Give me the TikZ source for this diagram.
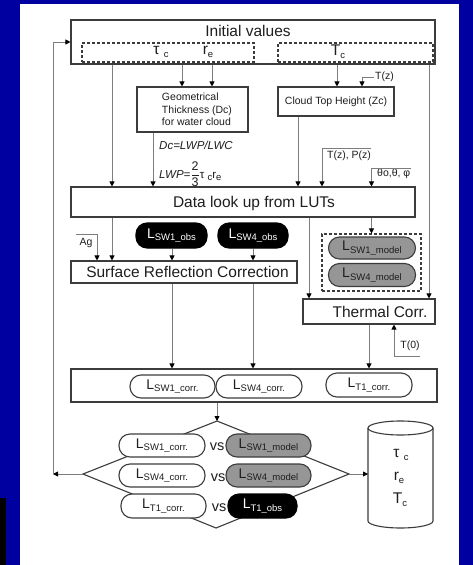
\documentclass[tikz,border=0pt]{standalone}
\usepackage{fontspec}
\setmainfont{Liberation Sans}
\usetikzlibrary{arrows.meta}
\definecolor{bgblue}{RGB}{0,0,160}
\definecolor{boxc}{RGB}{60,60,60}
\definecolor{linec}{RGB}{125,125,125}
\definecolor{pillgray}{RGB}{150,150,150}
\definecolor{txt}{RGB}{30,30,30}
\newcommand\lsub[1]{\raisebox{-0.18em}{\fontsize{9.5}{10}\selectfont #1}}
\newcommand\Lab[2]{L\lsub{#1\_#2}}
\begin{document}
\begin{tikzpicture}[x=1pt,y=-1pt]
\tikzset{
 box/.style={draw=boxc,line width=1.1pt,fill=white,inner sep=0pt,text=txt},
 dbox/.style={draw=boxc,line width=1.1pt,dash pattern=on 3pt off 2pt,inner sep=0pt},
 pill/.style={draw=boxc,line width=1.1pt,rounded corners=11pt,inner sep=0pt,text=txt,font=\fontsize{14}{15}\selectfont},
 pillw/.style={pill,fill=white},
 pillg/.style={pill,fill=pillgray},
 pillk/.style={pill,fill=black,text=white,draw=black},
 conn/.style={draw=linec,line width=0.8pt},
 arr/.style={conn,-{Triangle[length=5pt,width=5pt,color=black]}},
 big/.style={inner sep=0pt,text=txt,font=\fontsize{15.5}{17}\selectfont},
 med/.style={inner sep=0pt,text=txt,font=\fontsize{14.5}{16}\selectfont},
 small/.style={inner sep=0pt,text=txt,font=\fontsize{10.5}{12.5}\selectfont},
}
% background
\fill[bgblue] (0,0) rectangle (473,565);
\fill[white] (20,3.5) rectangle (459,565);
\fill[black] (0,498) rectangle (6,565);
\useasboundingbox (0,0) rectangle (473,565);

% x positions
\coordinate (xA) at (112,0);
\coordinate (xB) at (182,0);
\coordinate (xC) at (212,0);
\coordinate (xD) at (337,0);
\coordinate (xE) at (429,0);
\coordinate (xF) at (153,0);
\coordinate (xG) at (298,0);
\coordinate (xH) at (322,0);
\coordinate (xI) at (371.5,0);
\coordinate (xJ) at (309,0);
\coordinate (xK) at (97,0);
\coordinate (xL) at (172,0);
\coordinate (xM) at (253,0);
\coordinate (xN) at (369,0);
\coordinate (xO) at (394,0);
\coordinate (xT) at (362,0);

% Initial values
\node[box,minimum width=364pt,minimum height=44pt] (init) at (253,42) {};
\node[big] (initlbl) at (248,31) {Initial values};
\node[dbox,minimum width=172pt,minimum height=19pt] (dashL) at (168,52.5) {};
\node[dbox,minimum width=155pt,minimum height=19pt] (dashR) at (355.5,52.5) {};
\node[big] (tau) at (161,52) {τ\ \lsub{c}};
\node[big] (re) at (208,52) {r\lsub{e}};
\node[big] (tc) at (338,52) {T\lsub{c}};

% Geometrical thickness
\node[box,minimum width=111pt,minimum height=45pt] (geo) at (192.5,109.5) {};
\node[small,align=left] (geotxt) at (197,109.5) {Geometrical\\Thickness (Dc)\\for water cloud};
\node[box,minimum width=116pt,minimum height=29pt,font=\fontsize{10.5}{12}\selectfont] (cth) at (336,101.5) {Cloud Top Height (Zc)};

\node[anchor=west,inner sep=0pt,text=txt,font=\fontsize{11.5}{13}\selectfont\itshape] (dc) at (159,145) {Dc=LWP/LWC};
\node[anchor=west,inner sep=0pt,text=txt,font=\fontsize{11.5}{13}\selectfont] (lwp) at (159,174) {\textit{LWP=}$\displaystyle\frac{\mbox{\fontsize{12.5}{13}\selectfont 2}}{\mbox{\fontsize{12.5}{13}\selectfont 3}}$τ \lsub{c}r\lsub{e}};

% Data look up
\node[box,minimum width=344pt,minimum height=30pt] (data) at (243,202) {};
\node[big] (datalbl) at (254,203) {Data look up from LUTs};

% T(z) etc
\coordinate (tzS) at (374,77);
\node[small,anchor=west] (tzl) at (375,77) {T(z)};
\coordinate (tpS) at (371,148);
\node[small,anchor=west] (tpl) at (327,156) {T(z), P(z)};
\coordinate (thS) at (411,168);
\node[small,anchor=west] (thl) at (377,174) {θo,θ, φ};

% obs pills and surface correction
\node[pillk,minimum width=71pt,minimum height=25pt] (obs1) at (171.5,235.5) {\Lab{SW1}{obs}};
\node[pillk,minimum width=70pt,minimum height=25pt] (obs4) at (253,235.5) {\Lab{SW4}{obs}};
\coordinate (agS) at (76,234);
\node[small] (agl) at (86,243) {Ag};
\node[box,minimum width=226pt,minimum height=22pt] (surf) at (184,272) {};
\node[big] (surflbl) at (187.5,272) {Surface Reflection Correction};

% model group and thermal
\node[dbox,minimum width=99pt,minimum height=57pt] (dgrp) at (371.5,262.5) {};
\node[pillg,minimum width=87pt,minimum height=22pt] (mod1) at (372,248) {\Lab{SW1}{model}};
\node[pillg,minimum width=87pt,minimum height=23pt] (mod4) at (372,275) {\Lab{SW4}{model}};
\node[box,minimum width=132pt,minimum height=25pt] (therm) at (369,311.5) {};
\node[big] (thermlbl) at (380,311.5) {Thermal Corr.};
\coordinate (t0S) at (420,356);
\node[small] (t0l) at (410,346) {T(0)};

% corrected radiances
\node[box,minimum width=366pt,minimum height=33pt] (res) at (254,385.5) {};
\node[pillw,minimum width=85pt,minimum height=23pt] (corr1) at (172.5,386.5) {\Lab{SW1}{corr.}};
\node[pillw,minimum width=86pt,minimum height=23pt] (corr4) at (259,386.5) {\Lab{SW4}{corr.}};
\node[pillw,minimum width=86pt,minimum height=24pt] (corrT) at (369,385) {\Lab{T1}{corr.}};

% decision diamond
\coordinate (dT) at (217,421);
\coordinate (dR) at (349,474);
\coordinate (dB) at (216,528);
\coordinate (dL) at (83,474);
\draw[draw=boxc,line width=1.1pt] (dT) -- (dR) -- (dB) -- (dL) -- cycle;
\node[pillw,minimum width=86pt,minimum height=23pt] (c1) at (162,445.5) {\Lab{SW1}{corr.}};
\node[med] (vs1) at (217,447) {vs};
\node[pillg,minimum width=85pt,minimum height=23pt] (m1) at (268.5,445.5) {\Lab{SW1}{model}};
\node[pillw,minimum width=86pt,minimum height=23pt] (c2) at (162,475.5) {\Lab{SW4}{corr.}};
\node[med] (vs2) at (218,478) {vs};
\node[pillg,minimum width=85pt,minimum height=23pt] (m2) at (268.5,475.5) {\Lab{SW4}{model}};
\node[pillw,minimum width=85pt,minimum height=24pt] (c3) at (163.5,506) {\Lab{T1}{corr.}};
\node[med] (vs3) at (219,508) {vs};
\node[pillk,minimum width=69pt,minimum height=24pt] (m3) at (262.5,506) {\Lab{T1}{obs}};

% cylinder
\draw[draw=boxc,line width=1.1pt,fill=white] (368,428) -- (368,521) arc[start angle=180,end angle=0,x radius=32.5,y radius=7] -- (433,428);
\draw[draw=boxc,line width=1.1pt] (400.5,428) ellipse [x radius=32.5,y radius=7];
\coordinate (cylW) at (368,474);
\node[big] (ctau) at (401,455) {τ \lsub{c}};
\node[big] (cre) at (399,478) {r\lsub{e}};
\node[big] (ctc) at (400,500) {T\lsub{c}};

% feedback
\coordinate (fb) at (53,474);

% connectors
\draw[arr] (init.south -| xA) -- (data.north -| xA);
\draw[arr] (init.south -| xB) -- (geo.north -| xB);
\draw[arr] (init.south -| xC) -- (geo.north -| xC);
\draw[arr] (init.south -| xD) -- (cth.north -| xD);
\draw[arr] (init.south -| xE) -- (therm.north -| xE);
\draw[arr] (tzS) -| (cth.north -| xT);
\draw[arr] (geo.south -| xF) -- (data.north -| xF);
\draw[arr] (cth.south -| xG) -- (data.north -| xG);
\draw[arr] (tpS) -| (data.north -| xH);
\draw[arr] (thS) -| (data.north -| xI);
\draw[arr] (data.south -| xA) -- (surf.north -| xA);
\draw[arr] (agS) -| (surf.north -| xK);
\draw[arr] (obs1.south -| xL) -- (surf.north -| xL);
\draw[arr] (obs4.south -| xM) -- (surf.north -| xM);
\draw[arr] (data.south -| dgrp.north) -- (dgrp.north);
\draw[arr] (data.south -| xJ) -- (therm.north -| xJ);
\draw[arr] (surf.south -| xL) -- (res.north -| xL);
\draw[arr] (surf.south -| xM) -- (res.north -| xM);
\draw[arr] (therm.south -| xN) -- (res.north -| xN);
\draw[arr] (t0S) -| (therm.south -| xO);
\draw[arr] (res.south -| dT) -- (dT);
\draw[arr] (dR) -- (cylW);
\draw[arr] (dL) -- (fb);
\draw[arr] (fb) |- (init.west);
\end{tikzpicture}
\end{document}
